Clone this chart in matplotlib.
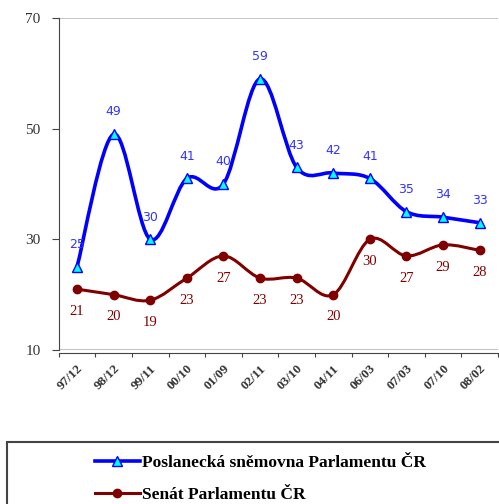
import numpy as np
import matplotlib
matplotlib.use("Agg")
import matplotlib.pyplot as plt
from matplotlib.path import Path
from matplotlib.patches import PathPatch, Rectangle
from matplotlib.lines import Line2D

# data
dates = ["97/12", "98/12", "99/11", "00/10", "01/09", "02/11",
         "03/10", "04/11", "06/03", "07/03", "07/10", "08/02"]
poslanecka = [25, 49, 30, 41, 40, 59, 43, 42, 41, 35, 34, 33]
senat = [21, 20, 19, 23, 27, 23, 23, 20, 30, 27, 29, 28]
yticks = [10, 30, 50, 70]

blue = "#0000FF"
red = "#800000"


def smooth_path(x, y):
    # excel-like smoothed line : cubic bezier through the points
    x = np.asarray(x, float)
    y = np.asarray(y, float)
    n = len(x)
    verts = [(x[0], y[0])]
    codes = [Path.MOVETO]
    for i in range(n - 1):
        i0 = max(i - 1, 0)
        i3 = min(i + 2, n - 1)
        c1 = (x[i] + (x[i + 1] - x[i0]) / 6, y[i] + (y[i + 1] - y[i0]) / 6)
        c2 = (x[i + 1] - (x[i3] - x[i]) / 6, y[i + 1] - (y[i3] - y[i]) / 6)
        verts += [c1, c2, (x[i + 1], y[i + 1])]
        codes += [Path.CURVE4] * 3
    return Path(verts, codes)


fig = plt.figure(figsize=(4.99, 5.04), dpi=100)
ax = fig.add_axes([58.7 / 499, 1 - 350 / 504, 439.3 / 499, 332 / 504])

X = np.arange(len(dates))

ax.add_patch(PathPatch(smooth_path(X, poslanecka), fill=False, edgecolor=blue, lw=2.6, zorder=3))
ax.add_patch(PathPatch(smooth_path(X, senat), fill=False, edgecolor=red, lw=2.2, zorder=3))
ax.plot(X, poslanecka, ls="none", marker="^", ms=7.5, mfc="#00FFFF", mec=blue, mew=1, zorder=4)
ax.plot(X, senat, ls="none", marker="o", ms=6, mfc=red, mec=red, zorder=4)

for i in range(len(X)):
    ax.annotate(str(poslanecka[i]), (X[i], poslanecka[i]), xytext=(0, 16), textcoords="offset points",
                ha="center", va="center", color="#3333FF", fontsize=9, family="DejaVu Sans")
    ax.annotate(str(senat[i]), (X[i], senat[i]), xytext=(0, -16), textcoords="offset points",
                ha="center", va="center", color=red, fontsize=10.5, family="Liberation Serif")

ax.set_xlim(-0.5, len(dates) - 0.5)
ax.set_ylim(10, 70)
ax.axhline(70, color="#BBBBBB", lw=1.2, zorder=1)
ax.axhline(10, color="#BBBBBB", lw=2, zorder=1)

ax.spines["top"].set_visible(False)
ax.spines["right"].set_visible(False)
ax.spines["left"].set_color("#444444")
ax.spines["bottom"].set_color("#444444")
ax.spines["bottom"].set_position(("outward", 2))

ax.set_yticks(yticks)
ax.set_yticklabels([str(v) for v in yticks], family="Liberation Serif", fontsize=11, color="#333333")
ax.tick_params(axis="y", length=5, color="#444444", pad=8)

ax.set_xticks(np.arange(len(dates) + 1) - 0.5)
ax.set_xticklabels([])
ax.tick_params(axis="x", which="major", length=3, color="#444444")
ax.set_xticks(X, minor=True)
ax.set_xticklabels(dates, minor=True, rotation=45, ha="right", rotation_mode="anchor",
                   family="Liberation Serif", fontsize=9.5, fontweight="bold", color="#333333")
ax.tick_params(axis="x", which="minor", length=0, pad=7)

# legend box
fig.patches.append(Rectangle((7 / 499, -0.1), 1.0, 1 - 442 / 504 + 0.1, transform=fig.transFigure,
                             fill=False, edgecolor="#444444", lw=1.5))
handles = [Line2D([], [], color=blue, lw=2.6, marker="^", ms=7.5, mfc="#00FFFF", mec=blue),
           Line2D([], [], color=red, lw=2.2, marker="o", ms=6, mfc=red, mec=red)]
fig.legend(handles, ["Poslanecká sněmovna Parlamentu ČR", "Senát Parlamentu ČR"],
           loc="upper left", bbox_to_anchor=(86 / 499, 1 - 446 / 504), frameon=False,
           prop={"family": "Liberation Serif", "weight": "bold", "size": 12.5},
           handlelength=2.6, handletextpad=0.15, labelspacing=0.9, borderpad=0)

fig.savefig("out.png", dpi=100)
